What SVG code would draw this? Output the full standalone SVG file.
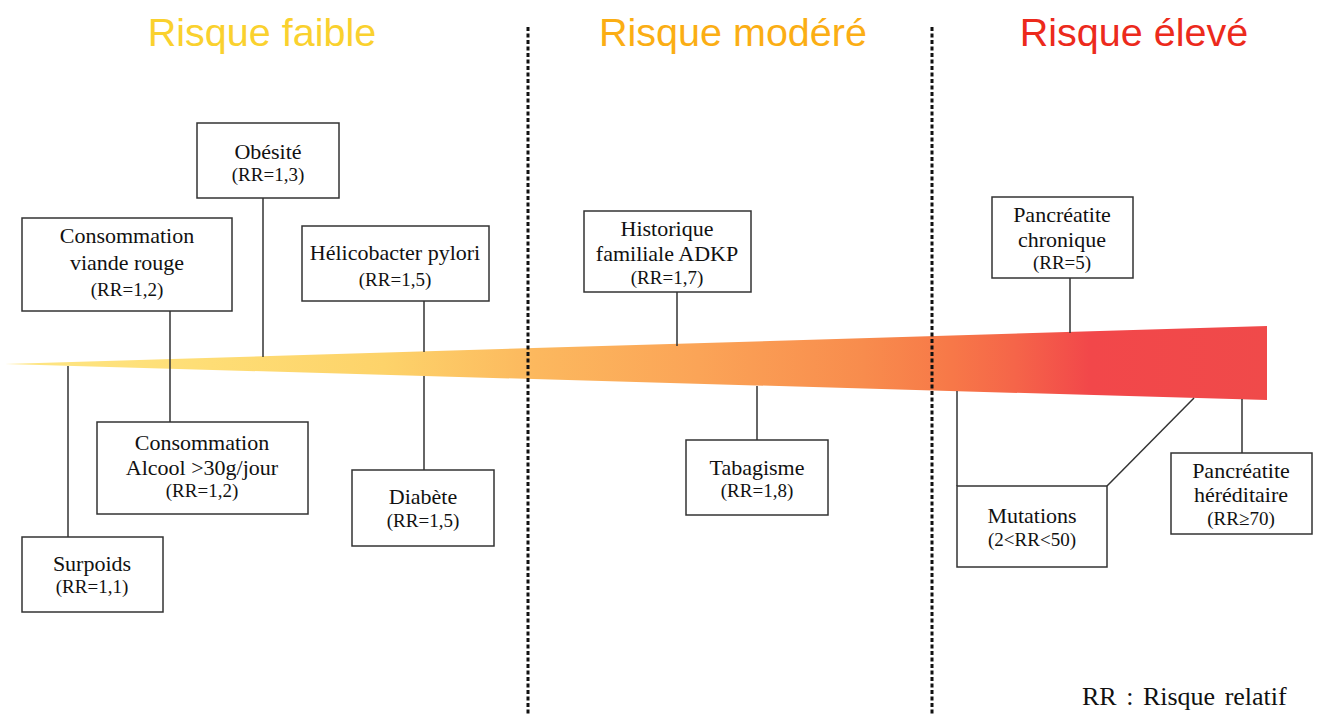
<svg xmlns="http://www.w3.org/2000/svg" width="1317" height="715" viewBox="0 0 1317 715">
<style>
.hdr{font-family:"Liberation Sans",Arial,sans-serif;font-size:39.5px;text-anchor:middle}
.box{fill:#fff;stroke:#333;stroke-width:1.5}
.lbl{font-family:"Liberation Serif","Times New Roman",serif;font-size:22px;fill:#111;text-anchor:middle}
.rr{font-family:"Liberation Serif","Times New Roman",serif;font-size:19px;fill:#111;text-anchor:middle}
.con{stroke:#333;stroke-width:1.5;fill:none}
.sep{stroke:#111;stroke-width:3;stroke-dasharray:4 2.5}
</style>
<defs>
<linearGradient id="grad" gradientUnits="userSpaceOnUse" x1="5" y1="0" x2="1267" y2="0">
<stop offset="0" stop-color="#FEE684"/>
<stop offset="0.15" stop-color="#FEDE76"/>
<stop offset="0.3" stop-color="#FDD36A"/>
<stop offset="0.42" stop-color="#FCB85E"/>
<stop offset="0.55" stop-color="#FBA457"/>
<stop offset="0.68" stop-color="#F88C4D"/>
<stop offset="0.75" stop-color="#F77848"/>
<stop offset="0.8" stop-color="#F56549"/>
<stop offset="0.86" stop-color="#F2474A"/>
<stop offset="1" stop-color="#F04A4A"/>
</linearGradient>
</defs>
<rect width="1317" height="715" fill="#fff"/>
<g id="headers">
<text class="hdr" x="262" y="46" fill="#FAD12E">Risque faible</text>
<text class="hdr" x="733" y="46" fill="#FBAE14">Risque modéré</text>
<text class="hdr" x="1134" y="46" fill="#EC2A1C">Risque élevé</text>
</g>
<g id="wedge">
<polygon points="5,364 1267,326 1267,400" fill="url(#grad)"/>
</g>
<g id="separators">
<line class="sep" x1="528" y1="27" x2="528" y2="715"/>
<line class="sep" x1="932" y1="27" x2="932" y2="715"/>
</g>
<g id="connectors">
<line class="con" x1="68" y1="366" x2="68" y2="537"/>
<line class="con" x1="170" y1="311" x2="170" y2="422"/>
<line class="con" x1="263" y1="198" x2="263" y2="357"/>
<line class="con" x1="424" y1="301" x2="424" y2="352"/>
<line class="con" x1="424" y1="376" x2="424" y2="470"/>
<line class="con" x1="677" y1="292" x2="677" y2="346"/>
<line class="con" x1="757" y1="386" x2="757" y2="440"/>
<line class="con" x1="1070" y1="278" x2="1070" y2="333"/>
<line class="con" x1="957" y1="391" x2="957" y2="486"/>
<line class="con" x1="1107" y1="486" x2="1194" y2="398"/>
<line class="con" x1="1242" y1="399" x2="1242" y2="453"/>
</g>
<g id="viande">
<rect class="box" x="22" y="218" width="210" height="93"/>
<text class="lbl" x="127" y="243">Consommation</text>
<text class="lbl" x="127" y="270">viande rouge</text>
<text class="rr" x="127" y="296">(RR=1,2)</text>
</g>
<g id="obesite">
<rect class="box" x="197" y="123" width="142" height="75"/>
<text class="lbl" x="268" y="159">Obésité</text>
<text class="rr" x="268" y="181">(RR=1,3)</text>
</g>
<g id="helicobacter">
<rect class="box" x="302" y="226" width="187" height="75"/>
<text class="lbl" x="395" y="260">Hélicobacter pylori</text>
<text class="rr" x="395" y="286">(RR=1,5)</text>
</g>
<g id="alcool">
<rect class="box" x="97" y="422" width="211" height="92"/>
<text class="lbl" x="202" y="450">Consommation</text>
<text class="lbl" x="202" y="475">Alcool &gt;30g/jour</text>
<text class="rr" x="202" y="497">(RR=1,2)</text>
</g>
<g id="surpoids">
<rect class="box" x="22" y="537" width="141" height="75"/>
<text class="lbl" x="92" y="571">Surpoids</text>
<text class="rr" x="92" y="593">(RR=1,1)</text>
</g>
<g id="diabete">
<rect class="box" x="352" y="470" width="142" height="76"/>
<text class="lbl" x="423" y="504">Diabète</text>
<text class="rr" x="423" y="527">(RR=1,5)</text>
</g>
<g id="historique">
<rect class="box" x="584" y="211" width="167" height="81"/>
<text class="lbl" x="667" y="236">Historique</text>
<text class="lbl" x="667" y="261">familiale ADKP</text>
<text class="rr" x="667" y="284">(RR=1,7)</text>
</g>
<g id="tabagisme">
<rect class="box" x="686" y="440" width="142" height="75"/>
<text class="lbl" x="757" y="475">Tabagisme</text>
<text class="rr" x="757" y="497">(RR=1,8)</text>
</g>
<g id="pchronique">
<rect class="box" x="992" y="197" width="141" height="81"/>
<text class="lbl" x="1062" y="222">Pancréatite</text>
<text class="lbl" x="1062" y="247">chronique</text>
<text class="rr" x="1062" y="269">(RR=5)</text>
</g>
<g id="mutations">
<rect class="box" x="957" y="486" width="150" height="81"/>
<text class="lbl" x="1032" y="523">Mutations</text>
<text class="rr" x="1032" y="546">(2&lt;RR&lt;50)</text>
</g>
<g id="phereditaire">
<rect class="box" x="1171" y="453" width="141" height="81"/>
<text class="lbl" x="1241" y="478">Pancréatite</text>
<text class="lbl" x="1241" y="502">héréditaire</text>
<text class="rr" x="1241" y="525">(RR≥70)</text>
</g>
<g id="legend">
<text x="1082" y="705" font-family="Liberation Serif,'Times New Roman',serif" font-size="26" fill="#111" word-spacing="3">RR : Risque relatif</text>
</g>
</svg>
